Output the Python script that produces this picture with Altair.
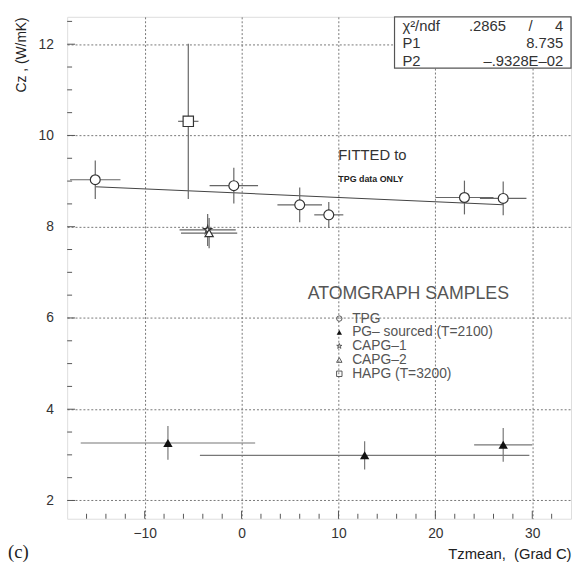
import altair as alt
import pandas as pd

# ---------------- data ----------------
tpg_x = [-15.1, -0.8, 6.0, 9.0, 23.0, 27.0]
tpg_y = [9.03, 8.90, 8.48, 8.26, 8.64, 8.62]
tpg_xerr = [2.6, 2.5, 2.3, 1.5, 3.0, 2.4]
tpg_yerr = [0.42, 0.39, 0.38, 0.28, 0.37, 0.37]

pg_x = [-7.6, 12.7, 27.0]
pg_y = [3.26, 2.99, 3.22]
pg_xerr = [9.0, 17.0, 3.0]
pg_yerr = [0.37, 0.31, 0.37]

capg1_x = [-3.5]
capg1_y = [7.93]
capg1_xerr = [2.9]
capg1_yerr = [0.35]

capg2_x = [-3.35]
capg2_y = [7.86]
capg2_xerr = [2.9]
capg2_yerr = [0.33]

hapc_x = [-5.5]
hapc_y = [10.31]
hapc_xerr = [1.05]
hapc_yerr = [1.7]

fit_x = [-15.1, 27.0]
fit_y = [8.876, 8.483]

x_major = [-10, 0, 10, 20, 30]
y_major = [2, 4, 6, 8, 10, 12]
x_minor = [-16, -14, -12, -8, -6, -4, -2, 2, 4, 6, 8, 12, 14, 16, 18, 22, 24, 26, 28, 32]
y_minor = [2.5, 3, 3.5, 4.5, 5, 5.5, 6.5, 7, 7.5, 8.5, 9, 9.5, 10.5, 11, 11.5, 12.5]

legend_labels = ["TPG", "PG\u2013 sourced (T=2100)", "CAPG\u20131", "CAPG\u20132", "HAPG (T=3200)"]
stats_rows = [("\u03c7\u00b2/ndf", ".2865", "/", "4"), ("P1", "", "", "8.735"), ("P2", "", "", "\u2013.9328E\u201302")]

XDOM = [-18, 34]
YDOM = [1.6, 12.6]
W, H = 511, 509
FONT = "Liberation Sans"

STAR = "M0,-1L0.2245,-0.309L0.9511,-0.309L0.3633,0.118L0.5878,0.809L0,0.382L-0.5878,0.809L-0.3633,0.118L-0.9511,-0.309L-0.2245,-0.309Z"


def frame(xs, ys, xe, ye):
    return pd.DataFrame({
        "x": xs, "y": ys,
        "xlo": [a - b for a, b in zip(xs, xe)], "xhi": [a + b for a, b in zip(xs, xe)],
        "ylo": [a - b for a, b in zip(ys, ye)], "yhi": [a + b for a, b in zip(ys, ye)],
    })


xs = alt.Scale(domain=XDOM, nice=False, zero=False)
ys = alt.Scale(domain=YDOM, nice=False, zero=False)

xaxis = alt.Axis(values=x_major, grid=True, gridDash=[2, 2], gridColor="#777", gridWidth=1,
                 ticks=False, domain=False, labelFontSize=14, labelColor="#333", labelFont=FONT,
                 labelPadding=8, title="Tzmean,\u00a0\u00a0(Grad C)", titleFont=FONT, titleFontSize=15,
                 titleFontWeight="normal", titleColor="#222", titleAnchor="end", titleAlign="right",
                 titleX=W, titleY=35, titleBaseline="middle", format="d", labelExpr="replace(datum.label, '-', '\u2212')")
yaxis = alt.Axis(values=y_major, grid=True, gridDash=[2, 2], gridColor="#777", gridWidth=1,
                 ticks=False, domain=False, labelFontSize=14, labelColor="#333", labelFont=FONT,
                 labelPadding=14, title="Cz\u00a0,\u00a0(W/mK)", titleFont=FONT, titleFontSize=14,
                 titleFontWeight="normal", titleColor="#222", titleAngle=-90, titleAlign="right",
                 titleBaseline="middle", titleX=-46, titleY=0)

base_axes = alt.Chart(pd.DataFrame({"x": [0], "y": [5]})).mark_point(opacity=0).encode(
    x=alt.X("x:Q", scale=xs, axis=xaxis),
    y=alt.Y("y:Q", scale=ys, axis=yaxis),
)

layers = [base_axes]

# inward ticks
layers.append(alt.Chart(pd.DataFrame({"v": x_minor})).mark_rule(color="#555", strokeWidth=1).encode(
    x=alt.X("v:Q", scale=xs), y=alt.value(H), y2=alt.value(H - 5)))
layers.append(alt.Chart(pd.DataFrame({"v": x_major})).mark_rule(color="#555", strokeWidth=1).encode(
    x=alt.X("v:Q", scale=xs), y=alt.value(H), y2=alt.value(H - 8)))
layers.append(alt.Chart(pd.DataFrame({"v": y_minor})).mark_rule(color="#555", strokeWidth=1).encode(
    y=alt.Y("v:Q", scale=ys), x=alt.value(0), x2=alt.value(5)))
layers.append(alt.Chart(pd.DataFrame({"v": y_major})).mark_rule(color="#555", strokeWidth=1).encode(
    y=alt.Y("v:Q", scale=ys), x=alt.value(0), x2=alt.value(8)))

# fit line
layers.append(alt.Chart(pd.DataFrame({"x": fit_x, "y": fit_y})).mark_line(color="#444", strokeWidth=1.1).encode(
    x=alt.X("x:Q", scale=xs), y=alt.Y("y:Q", scale=ys)))


def series(df, shape, filled, size, ecolor="#666"):
    out = []
    out.append(alt.Chart(df).mark_rule(color=ecolor, strokeWidth=1.2).encode(
        x=alt.X("xlo:Q", scale=xs), x2="xhi:Q", y=alt.Y("y:Q", scale=ys)))
    out.append(alt.Chart(df).mark_rule(color=ecolor, strokeWidth=1.2).encode(
        y=alt.Y("ylo:Q", scale=ys), y2="yhi:Q", x=alt.X("x:Q", scale=xs)))
    if filled:
        out.append(alt.Chart(df).mark_point(shape=shape, filled=True, color="#111", size=size, opacity=1).encode(
            x=alt.X("x:Q", scale=xs), y=alt.Y("y:Q", scale=ys)))
    else:
        out.append(alt.Chart(df).mark_point(shape=shape, filled=False, fill="white", fillOpacity=1,
                                            stroke="#333", strokeWidth=1.2, size=size, opacity=1).encode(
            x=alt.X("x:Q", scale=xs), y=alt.Y("y:Q", scale=ys)))
    return out


layers += series(frame(hapc_x, hapc_y, hapc_xerr, hapc_yerr), "square", False, 110)
layers += series(frame(capg1_x, capg1_y, capg1_xerr, capg1_yerr), STAR, False, 70)
layers += series(frame(capg2_x, capg2_y, capg2_xerr, capg2_yerr), "triangle-up", False, 70)
layers += series(frame(pg_x, pg_y, pg_xerr, pg_yerr), "triangle-up", True, 90, ecolor="#777")
layers += series(frame(tpg_x, tpg_y, tpg_xerr, tpg_yerr), "circle", False, 100)


def txt(s, x, y, size=14, align="left", color="#333", font=FONT, weight="normal", baseline="middle"):
    return alt.Chart(pd.DataFrame({"t": [s]})).mark_text(
        align=align, baseline=baseline, fontSize=size, color=color, font=font, fontWeight=weight
    ).encode(x=alt.value(x), y=alt.value(y), text="t:N")


# annotations
layers.append(txt("FITTED to", 275, 140, size=15, color="#333"))
layers.append(txt("TPG data ONLY", 275, 165, size=9, color="#222", weight="bold"))

# legend
layers.append(txt("ATOMGRAPH SAMPLES", 346, 281, size=18, align="center", color="#555"))
rows_y = [306, 320, 334, 348, 362]
shapes = [("circle", False), ("triangle-up", True), (STAR, False), ("triangle-up", False), ("square", False)]
for lab, yy, (shp, fil) in zip(legend_labels, rows_y, shapes):
    if fil:
        m = alt.Chart(pd.DataFrame({"a": [0]})).mark_point(shape=shp, filled=True, color="#111", size=30, opacity=1)
    else:
        m = alt.Chart(pd.DataFrame({"a": [0]})).mark_point(shape=shp, filled=False, stroke="#555", strokeWidth=1, size=30, opacity=1)
    layers.append(m.encode(x=alt.value(276), y=alt.value(yy)))
    layers.append(txt(lab, 289, yy, size=14, color="#555"))

# stats box
layers.append(alt.Chart(pd.DataFrame({"a": [0]})).mark_rect(fill="white", stroke="#555", strokeWidth=1.2).encode(
    x=alt.value(332), x2=alt.value(W), y=alt.value(0), y2=alt.value(52)))
stat_y = [9, 27, 45]
for (a, b, c, d), yy in zip(stats_rows, stat_y):
    layers.append(txt(a, 340, yy, size=15, color="#333"))
    if b:
        layers.append(txt(b, 445, yy, size=15, align="right", color="#333"))
    if c:
        layers.append(txt(c, 470, yy, size=15, align="center", color="#333"))
    layers.append(txt(d, 503, yy, size=15, align="right", color="#333"))

# panel label
layers.append(txt("(c)", -60, 543, size=19, color="#222", font="Liberation Serif"))

chart = alt.layer(*layers).properties(
    width=W, height=H,
    autosize=alt.AutoSizeParams(type="none"),
    padding={"left": 60, "top": 5, "right": 2, "bottom": 45},
).configure_view(stroke="#555", strokeWidth=1.5).configure(background="white")

chart.save("out.html", embed_options={"renderer": "svg", "actions": False})
